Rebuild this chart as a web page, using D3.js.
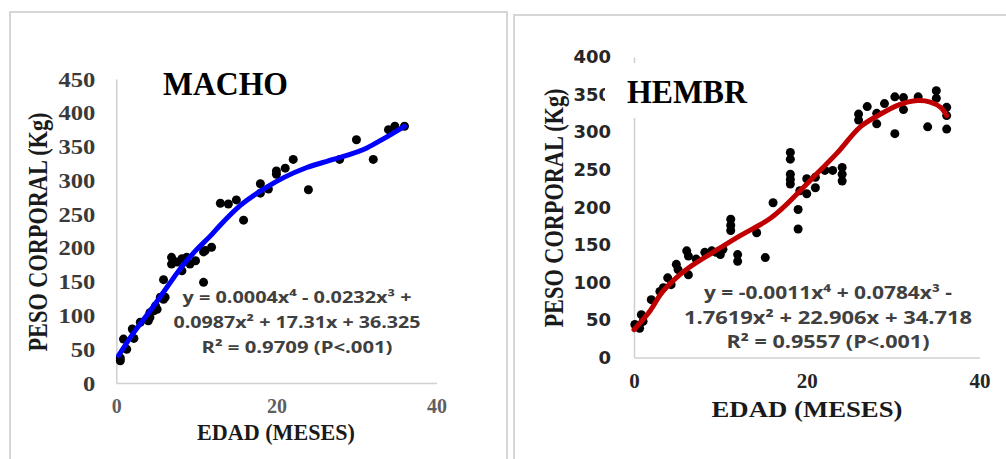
<!DOCTYPE html>
<html>
<head>
<meta charset="utf-8">
<script src="https://cdn.jsdelivr.net/npm/d3@7"></script>
<style>
  html, body { margin: 0; padding: 0; background: #fff; }
  svg { display: block; }
</style>
</head>
<body>
<svg id="chart" width="1006" height="459"></svg>
<script>
// --- data ---
const ageTicks = [0, 20, 40];
const maleWeightTicks = [0, 50, 100, 150, 200, 250, 300, 350, 400, 450];
const femaleWeightTicks = [0, 50, 100, 150, 200, 250, 300, 350, 400];

// MACHO: age (months) / body weight (kg)
const maleAge = [0.5, 0.5, 0.9, 1.3, 2.0, 2.2, 3.0, 4.0, 4.2, 4.2, 4.7, 4.9, 5.1, 5.5, 5.9, 6.1,
  5.9, 6.9, 6.9, 7.6, 8.2, 8.2, 8.8, 9.2, 9.9, 10.9, 10.9, 11.1, 11.9, 13.0, 14.0, 15.0, 15.9,
  18.0, 18.0, 19.0, 20.0, 20.0, 21.1, 22.1, 24.0, 27.9, 30.0, 32.1, 34.0, 34.8, 36.0];
const maleWeight = [33, 37, 65, 50, 80, 66, 90, 92, 104, 97, 107, 114, 109, 127, 124, 127,
  153, 186, 176, 179, 184, 166, 186, 176, 181, 194, 149, 196, 201, 266, 265, 271, 241,
  295, 281, 287, 314, 309, 318, 331, 286, 331, 360, 331, 375, 380, 380];

// MACHO trend line (polynomial fit)
const maleTrendAge = [0.3, 2.2, 3.4, 4.6, 6.7, 7.6, 8.8, 10.0, 11.7, 13.0, 15.5, 18.8, 20.9, 23.8, 27.1, 31.3, 33.3, 36.0];
const maleTrendWeight = [41, 75, 94, 113, 148, 163, 181, 197, 217, 234, 263, 290, 304, 319, 331, 348, 361, 380];

// HEMBRA: age (months) / body weight (kg)
const femaleAge = [0.1, 0.65, 1.05, 0.85, 2.0, 3.0, 3.4, 3.9, 4.3, 4.9, 5.1, 6.3, 6.1, 6.3, 7.2,
  8.2, 9.0, 9.5, 10.3, 10.0, 11.2, 11.2, 11.2, 12.0, 12.0, 14.2, 15.2, 16.1,
  18.1, 18.1, 18.1, 18.1, 18.1, 19.0, 19.0, 19.2, 20.0, 20.0, 21.0, 21.0, 22.1, 23.0,
  24.1, 24.1, 24.1, 26.0, 26.0, 27.0, 28.1, 28.1, 29.0, 30.2, 30.2, 31.2, 31.2, 32.9,
  34.0, 35.0, 35.0, 36.2, 36.2, 36.2];
const femaleWeight = [44, 39, 48, 57, 77, 88, 93, 106, 97, 124, 117, 110, 142, 135, 131,
  140, 142, 140, 144, 137, 184, 176, 169, 137, 128, 166, 133, 206,
  273, 264, 244, 237, 231, 197, 171, 222, 218, 238, 226, 240, 249, 249,
  253, 244, 235, 324, 316, 334, 325, 311, 338, 347, 298, 346, 330, 347,
  307, 355, 345, 333, 322, 304];

// HEMBRA trend line
const femaleTrendAge = [0, 1.85, 3.2, 4.6, 6.3, 9.0, 12.1, 15.5, 17.3, 19.4, 20.6, 23.5, 26.2, 28.4, 30.6, 32.8, 34.3, 35.5, 36.2];
const femaleTrendWeight = [37, 62, 86, 103, 119, 139, 161, 183, 200, 224, 238, 272, 307, 323, 336, 342, 340, 333, 322];

const maleEquation = ["y = 0.0004x⁴ - 0.0232x³ +", "0.0987x² + 17.31x + 36.325", "R² = 0.9709 (P<.001)"];
const femaleEquation = ["y = -0.0011x⁴ + 0.0784x³ -", "1.7619x² +  22.906x + 34.718", "R² = 0.9557 (P<.001)"];

const svg = d3.select("#chart");

function drawPanel(p) {
  const g = svg.append("g");

  // frame
  g.append("rect")
      .attr("x", p.frame[0]).attr("y", p.frame[1])
      .attr("width", p.frame[2]).attr("height", p.frame[3])
      .attr("fill", "#fff")
      .attr("stroke", "#d6d6d6")
      .attr("stroke-width", 2);

  const x = d3.scaleLinear().domain([0, 40]).range(p.xRange);
  const y = d3.scaleLinear().domain([0, p.yMax]).range(p.yRange);

  // y axis
  const ya = g.append("g")
      .attr("transform", `translate(${p.xRange[0]},0)`)
      .call(d3.axisLeft(y).tickValues(p.yTicks).tickSize(0).tickPadding(p.yPad));
  ya.select(".domain").attr("stroke", "#d0d0d0").attr("stroke-width", 1.5);
  ya.selectAll("text")
      .attr("font-family", p.yFont)
      .attr("font-weight", "bold")
      .attr("font-size", p.yFontSize)
      .attr("fill", p.yColor)
      .each(function (d) {
        if (p.yDigitW) {
          d3.select(this)
              .attr("textLength", String(d).length * p.yDigitW)
              .attr("lengthAdjust", "spacingAndGlyphs");
        }
      });

  // x axis
  const xa = g.append("g")
      .attr("transform", `translate(0,${p.yRange[0]})`)
      .call(d3.axisBottom(x).tickValues(ageTicks).tickSize(0).tickPadding(p.xPad));
  xa.select(".domain").attr("stroke", "#d0d0d0").attr("stroke-width", 1.5);
  xa.selectAll("text")
      .attr("font-family", "'Liberation Serif', serif")
      .attr("font-weight", "bold")
      .attr("font-size", p.xFontSize)
      .attr("fill", p.xColor);

  // points
  g.append("g").selectAll("circle")
      .data(p.points)
    .join("circle")
      .attr("cx", d => x(d[0]))
      .attr("cy", d => y(d[1]))
      .attr("r", 4.5)
      .attr("fill", "#000");

  // trend line
  const line = d3.line()
      .x(d => x(d[0]))
      .y(d => y(d[1]))
      .curve(p.curve);
  g.append("path")
      .datum(p.trend)
      .attr("d", line)
      .attr("fill", "none")
      .attr("stroke", p.color)
      .attr("stroke-width", 5)
      .attr("stroke-linecap", "round");

  // equation
  g.append("g").selectAll("text")
      .data(p.equation)
    .join("text")
      .attr("x", p.eqX)
      .attr("y", (d, i) => p.eqY + i * p.eqStep)
      .attr("text-anchor", "middle")
      .attr("font-family", "'Open Sans', 'DejaVu Sans', sans-serif")
      .attr("font-weight", "bold")
      .attr("font-size", p.eqFontSize)
      .attr("fill", "#404040")
      .attr("textLength", (d, i) => p.eqWidths[i])
      .attr("lengthAdjust", "spacingAndGlyphs")
      .text(d => d);

  // title box + title
  if (p.titleBox) {
    g.append("rect")
        .attr("x", p.titleBox[0]).attr("y", p.titleBox[1])
        .attr("width", p.titleBox[2]).attr("height", p.titleBox[3])
        .attr("fill", "#fff");
  }
  g.append("text")
      .attr("x", p.titlePos[0])
      .attr("y", p.titlePos[1])
      .attr("font-family", "'Liberation Serif', serif")
      .attr("font-weight", "bold")
      .attr("font-size", 33)
      .attr("fill", "#000")
      .attr("textLength", p.titleW)
      .attr("lengthAdjust", "spacingAndGlyphs")
      .text(p.title);

  // axis titles
  g.append("text")
      .attr("transform", `translate(${p.yTitlePos[0]},${p.yTitlePos[1]}) rotate(-90)`)
      .attr("text-anchor", "middle")
      .attr("font-family", "'Liberation Serif', serif")
      .attr("font-weight", "bold")
      .attr("font-size", 28)
      .attr("fill", "#1a1a1a")
      .attr("textLength", 239)
      .attr("lengthAdjust", "spacingAndGlyphs")
      .text("PESO CORPORAL (Kg)");

  g.append("text")
      .attr("x", p.xTitlePos[0])
      .attr("y", p.xTitlePos[1])
      .attr("text-anchor", "middle")
      .attr("font-family", "'Liberation Serif', serif")
      .attr("font-weight", "bold")
      .attr("font-size", 23)
      .attr("fill", "#1a1a1a")
      .attr("textLength", p.xTitleW)
      .attr("lengthAdjust", "spacingAndGlyphs")
      .text("EDAD (MESES)");
}

drawPanel({
  frame: [10, 12, 497, 470],
  xRange: [116.3, 436.5],
  yRange: [383, 79],
  yMax: 450,
  yTicks: maleWeightTicks,
  yPad: 21,
  yFont: "'Liberation Serif', serif",
  yFontSize: 22,
  yDigitW: 12.3,
  yColor: "#3a3a3a",
  xPad: 16,
  xFontSize: 20,
  xColor: "#5f5f5f",
  points: d3.zip(maleAge, maleWeight),
  trend: d3.zip(maleTrendAge, maleTrendWeight),
  curve: d3.curveMonotoneX,
  color: "#0000ff",
  equation: maleEquation,
  eqX: 297,
  eqY: 303,
  eqStep: 25,
  eqFontSize: 16,
  eqWidths: [229, 247, 191],
  title: "MACHO",
  titlePos: [163, 95],
  titleW: 125,
  titleBox: null,
  yTitlePos: [47, 232],
  xTitlePos: [276, 440],
  xTitleW: 158
});

drawPanel({
  frame: [514, 15, 500, 470],
  xRange: [634, 979.5],
  yRange: [357.5, 57],
  yMax: 400,
  yTicks: femaleWeightTicks,
  yPad: 23,
  yFont: "'DejaVu Sans', sans-serif",
  yFontSize: 18,
  yDigitW: null,
  yColor: "#262626",
  xPad: 16,
  xFontSize: 21,
  xColor: "#262626",
  points: d3.zip(femaleAge, femaleWeight),
  trend: d3.zip(femaleTrendAge, femaleTrendWeight),
  curve: d3.curveCatmullRom,
  color: "#c00000",
  equation: femaleEquation,
  eqX: 828,
  eqY: 299,
  eqStep: 24.5,
  eqFontSize: 18,
  eqWidths: [248, 288, 203],
  title: "HEMBR",
  titlePos: [627, 103],
  titleW: 120,
  titleBox: [605, 63, 152, 55],
  yTitlePos: [563, 208],
  xTitlePos: [807, 417],
  xTitleW: 191
});
</script>
</body>
</html>
